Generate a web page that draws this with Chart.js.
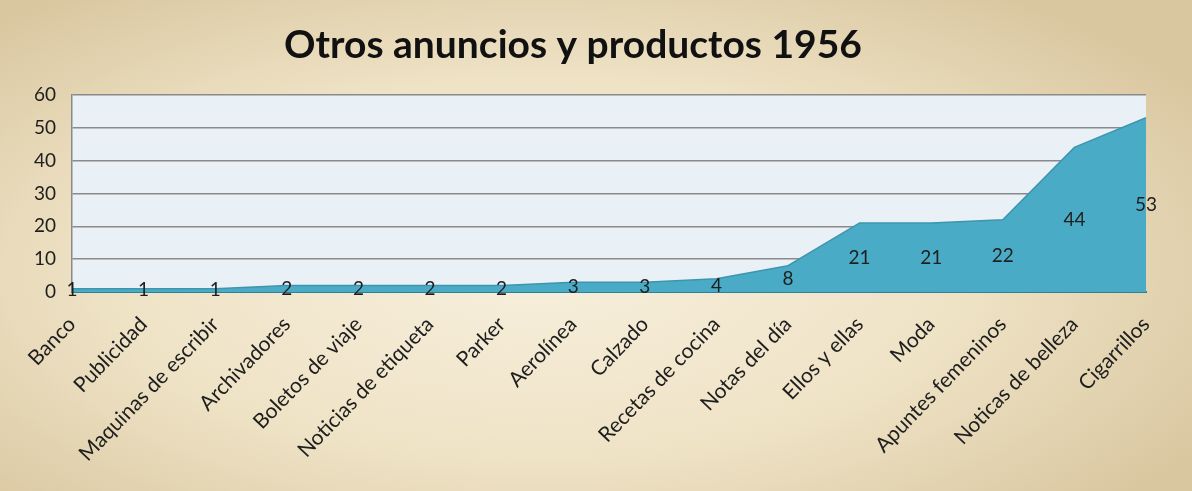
<!DOCTYPE html>
<html>
<head>
<meta charset="utf-8">
<script src="https://cdn.jsdelivr.net/npm/chart.js@4.4.1/dist/chart.umd.min.js"></script>
<style>
  html, body { margin: 0; padding: 0; }
  body {
    width: 1192px; height: 491px; overflow: hidden;
    background: radial-gradient(ellipse 65% 70% at 45% 55%, #f7efdd 0%, #efe3c6 55%, #d9c7a0 100%);
  }
  #wrap { position: relative; width: 1192px; height: 491px; }
</style>
</head>
<body>
<div id="wrap"><canvas id="chart" width="1192" height="491"></canvas></div>
<script>
const categories = [
  "Banco", "Publicidad", "Maquinas de escribir", "Archivadores", "Boletos de viaje",
  "Noticias de etiqueta", "Parker", "Aerolínea", "Calzado", "Recetas de cocina",
  "Notas del día", "Ellos y ellas", "Moda", "Apuntes femeninos", "Noticas de belleza", "Cigarrillos"
];
const counts = [1, 1, 1, 2, 2, 2, 2, 3, 3, 4, 8, 21, 21, 22, 44, 53];
const yTicks = [0, 10, 20, 30, 40, 50, 60];
const chartTitle = "Otros anuncios y productos 1956";

const FONT = "Lato, 'Open Sans', sans-serif";

// light blue plot background
const plotBg = {
  id: "plotBg",
  beforeDraw(chart) {
    const { ctx, chartArea: a } = chart;
    ctx.save();
    ctx.fillStyle = "#e9f1f6";
    ctx.fillRect(a.left, a.top, a.right - a.left, a.bottom - a.top);
    ctx.restore();
  }
};

// value labels sit halfway up the area, like the original
const midLabels = {
  id: "midLabels",
  afterDatasetsDraw(chart) {
    const { ctx } = chart;
    const xs = chart.scales.x, ys = chart.scales.y;
    ctx.save();
    ctx.font = "19px " + FONT;
    ctx.fillStyle = "#1e1e1e";
    ctx.textAlign = "center";
    ctx.textBaseline = "middle";
    counts.forEach((v, i) => {
      ctx.fillText(String(v), xs.getPixelForValue(i), ys.getPixelForValue(v / 2));
    });
    ctx.restore();
  }
};

new Chart(document.getElementById("chart"), {
  type: "line",
  data: {
    labels: categories,
    datasets: [{
      data: counts,
      fill: "origin",
      backgroundColor: "#4aabc7",
      borderColor: "#3d95ae",
      borderWidth: 1.5,
      pointRadius: 0,
      tension: 0
    }]
  },
  options: {
    responsive: false,
    animation: false,
    layout: { padding: { left: 0, right: 46, top: 16, bottom: 0 } },
    plugins: {
      legend: { display: false },
      tooltip: { enabled: false },
      title: {
        display: true,
        text: chartTitle,
        color: "#111",
        font: { family: FONT, size: 39, weight: "bold" },
        padding: { top: 6, bottom: 26 }
      }
    },
    scales: {
      x: {
        offset: false,
        grid: { display: false, drawTicks: false },
        border: { display: true, color: "#2f7f96", width: 2 },
        ticks: {
          color: "#1e1e1e",
          font: { family: FONT, size: 21 },
          minRotation: 46,
          maxRotation: 46,
          autoSkip: false,
          padding: 20
        },
        afterFit(scale) { scale.height = 199; }
      },
      y: {
        min: 0,
        max: 60,
        afterBuildTicks(scale) { scale.ticks = yTicks.map(v => ({ value: v })); },
        grid: { color: "#8a8a8a", lineWidth: 1.5, drawTicks: false },
        border: { display: true, color: "#8a8a8a", width: 1.5 },
        ticks: {
          color: "#1e1e1e",
          font: { family: FONT, size: 19 },
          padding: 16
        },
        afterFit(scale) { scale.width = 72; }
      }
    }
  },
  plugins: [plotBg, midLabels]
});
</script>
</body>
</html>
